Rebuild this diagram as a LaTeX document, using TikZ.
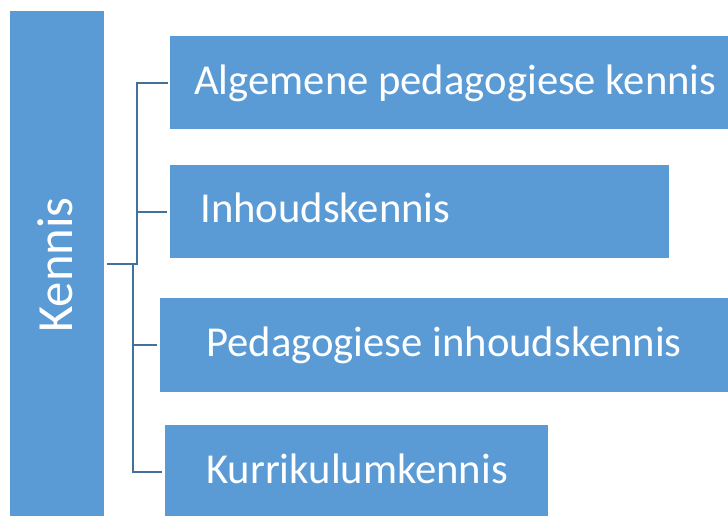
\documentclass[tikz,border=0pt]{standalone}
\usepackage{fontspec}
\setmainfont{Carlito}
\definecolor{boxblue}{HTML}{5B9BD5}
\definecolor{lineblue}{HTML}{41719C}
\begin{document}
\begin{tikzpicture}[x=0.75pt,y=-0.75pt,
  box/.style={fill=boxblue,draw=none},
  lbl/.style={text=white,font=\fontsize{32}{36}\selectfont,anchor=base west,inner sep=0pt},
  conn/.style={draw=lineblue,line width=1.6pt}]
\useasboundingbox (0,0) rectangle (728,516);
\begin{scope}
\clip (0,0) rectangle (728,516);
\fill[box] (10,11) rectangle (104,520);
\fill[box] (170,36) rectangle (730,129);
\fill[box] (170,165) rectangle (669,258);
\fill[box] (160,298) rectangle (730,392);
\fill[box] (165,425) rectangle (548,520);
\end{scope}
\node[text=white,font=\fontsize{38}{44}\selectfont,rotate=90,anchor=base,inner sep=0pt] (k) at (72,265) {Kennis};
\node[lbl] (a) at (194,95) {Algemene pedagogiese kennis};
\node[lbl] (b) at (200,223) {Inhoudskennis};
\node[lbl] (c) at (206,357) {Pedagogiese inhoudskennis};
\node[lbl] (d) at (206,483) {Kurrikulumkennis};
\coordinate (s0) at (107,264);
\coordinate (s1) at (137,264);
\coordinate (t1) at (137,83);
\coordinate (e1) at (168,83);
\coordinate (t2) at (137,212);
\coordinate (e2) at (167,212);
\coordinate (s2) at (133,264);
\coordinate (t3) at (133,345);
\coordinate (e3) at (157,345);
\coordinate (t4) at (133,472);
\coordinate (e4) at (162,472);
\draw[conn] (s0) -- (s1) -- (t1) -- (e1);
\draw[conn] (t2) -- (e2);
\draw[conn] (s2) -- (t4) -- (e4);
\draw[conn] (t3) -- (e3);
\end{tikzpicture}
\end{document}
